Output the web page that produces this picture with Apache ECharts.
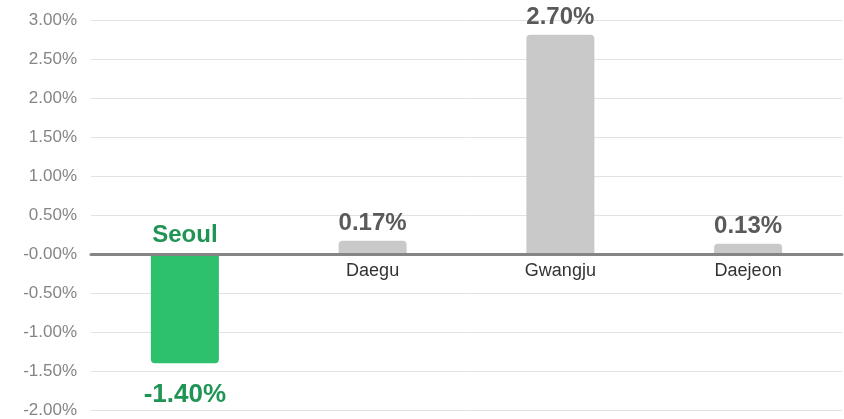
<!DOCTYPE html>
<html>
<head>
<meta charset="utf-8">
<script src="https://cdn.jsdelivr.net/npm/echarts@6/dist/echarts.min.js"></script>
<style>
	html,body{margin:0;padding:0;background:#fff;}
	#chart{width:844px;height:419px;}
</style>
</head>
<body>
<div id="chart"></div>
<script>
// 지역 / 값 (막대 높이는 그림에서 읽은 값, 라벨은 그림의 글자)
var cities = ['Seoul', 'Daegu', 'Gwangju', 'Daejeon'];
var values = [-1.40, 0.17, 2.81, 0.13];
var valueLabels = ['-1.40%', '0.17%', '2.70%', '0.13%'];
var highlight = 'Seoul';

var FONT = 'Arial, "Liberation Sans", sans-serif';
var GREEN = '#2ec16d';
var GREEN_TEXT = '#1f9455';
var GRAY = '#c9c9c9';

var myChart = echarts.init(document.getElementById('chart'));

/*막대 데이터*/
var barData = values.map(function(v, i){
	var hot = cities[i] === highlight;
	return {
		value: v,
		itemStyle: {
			color: hot ? GREEN : GRAY,
			borderRadius: v < 0 ? [0, 0, 4, 4] : [4, 4, 0, 0]
		},
		label: {
			show: true,
			position: v < 0 ? 'bottom' : 'top',
			distance: v < 0 ? 19 : 5,
			formatter: valueLabels[i],
			fontSize: hot ? 26 : 24,
			color: hot ? GREEN_TEXT : '#5a5a5a'
		}
	};
});

/*축 위에 놓는 지역 이름*/
var nameData = cities.map(function(c, i){
	var hot = c === highlight;
	return {
		value: [c, 0],
		label: {
			position: hot ? 'top' : 'bottom',
			distance: hot ? 7 : 8,
			color: hot ? GREEN_TEXT : '#333',
			fontSize: hot ? 24 : 18,
			fontWeight: hot ? 'bold' : 'normal'
		}
	};
});

myChart.setOption({
	animation: false,
	textStyle: { fontFamily: FONT },
	grid: { left: 91, right: 2, top: 20, bottom: 9 },
	xAxis: {
		type: 'category',
		data: cities,
		z: 10,
		axisLine: { onZero: true, lineStyle: { color: '#858585', width: 3 } },
		axisTick: { show: false },
		axisLabel: { show: false }
	},
	yAxis: {
		type: 'value',
		min: -2,
		max: 3,
		interval: 0.5,
		axisLine: { show: false },
		axisTick: { show: false },
		splitLine: { lineStyle: { color: '#e2e2e2', width: 1 } },
		axisLabel: {
			margin: 14,
			fontSize: 17,
			color: '#858585',
			fontFamily: FONT,
			formatter: function(v){
				return (v <= 0 ? '-' + Math.abs(v).toFixed(2) : v.toFixed(2)) + '%';
			}
		}
	},
	series: [
		{
			type: 'bar',
			barWidth: 68,
			data: barData,
			label: { fontWeight: 'bold', fontFamily: FONT }
		},
		{
			type: 'scatter',
			symbolSize: 0,
			z: 12,
			silent: true,
			itemStyle: { opacity: 1 },
			data: nameData,
			label: {
				show: true,
				opacity: 1,
				fontFamily: FONT,
				formatter: function(p){ return p.value[0]; }
			}
		}
	]
});
</script>
</body>
</html>
